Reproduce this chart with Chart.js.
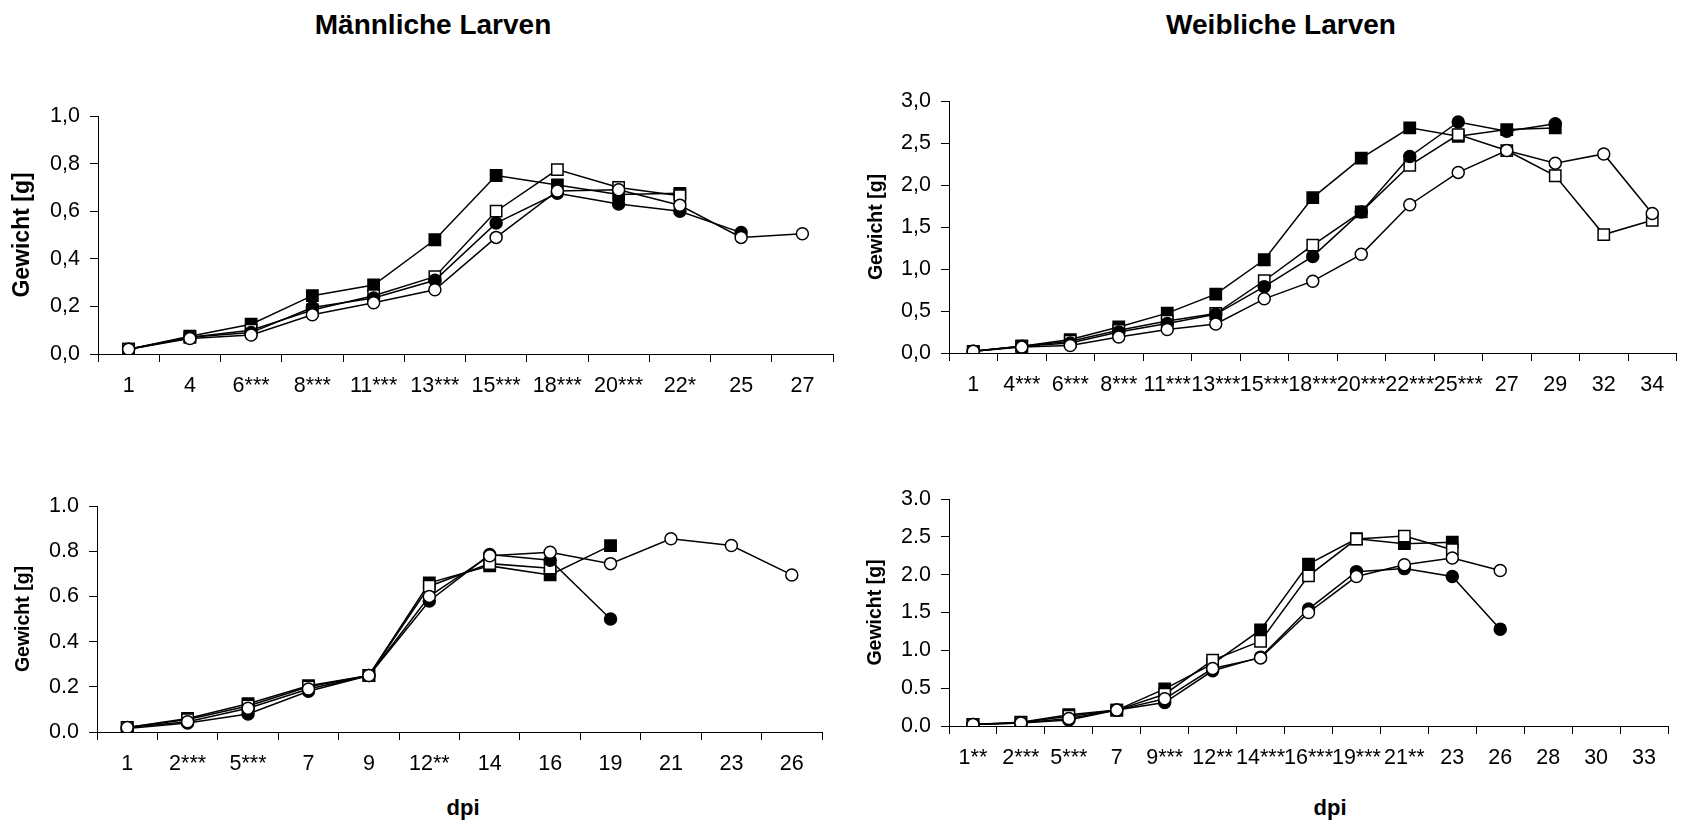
<!DOCTYPE html>
<html>
<head>
<meta charset="utf-8">
<script src="https://cdn.jsdelivr.net/npm/chart.js@4.4.1/dist/chart.umd.min.js"></script>
<style>
  html, body { margin: 0; padding: 0; background: #fff; overflow: hidden; }
  body { width: 1686px; height: 824px; position: relative; font-family: "Liberation Sans", Arial, sans-serif; }
  canvas { position: absolute; }
  .lbl { position: absolute; font-weight: bold; color: #000; transform: translate(-50%, -50%); white-space: nowrap; }
</style>
</head>
<body>
<div class="lbl" style="left:433px; top:25px; font-size:28px;">Männliche Larven</div>
<div class="lbl" style="left:1281px; top:25px; font-size:28px;">Weibliche Larven</div>
<div class="lbl" style="left:463px; top:808px; font-size:22px;">dpi</div>
<div class="lbl" style="left:1330px; top:808px; font-size:22px;">dpi</div>

<canvas id="c1" width="843" height="360" style="left:0px; top:60px;"></canvas>
<canvas id="c2" width="836" height="360" style="left:850px; top:60px;"></canvas>
<canvas id="c3" width="843" height="340" style="left:0px; top:450px;"></canvas>
<canvas id="c4" width="836" height="340" style="left:850px; top:450px;"></canvas>

<script>
// Männliche Larven, oben
const tagMO = ['1', '4', '6***', '8***', '11***', '13***', '15***', '18***', '20***', '22*', '25', '27'];
const mO_quadVoll  = [0.02, 0.075, 0.125, 0.245, 0.29, 0.48, 0.75, 0.71, 0.67, 0.675, null, null];
const mO_quadLeer  = [0.02, 0.07, 0.10, 0.185, 0.245, 0.325, 0.60, 0.775, 0.70, 0.665, null, null];
const mO_kreisVoll = [0.02, 0.07, 0.09, 0.195, 0.235, 0.31, 0.55, 0.675, 0.63, 0.60, 0.51, null];
const mO_kreisLeer = [0.02, 0.065, 0.08, 0.165, 0.215, 0.27, 0.49, 0.685, 0.69, 0.625, 0.49, 0.505];

// Weibliche Larven, oben
const tagWO = ['1', '4***', '6***', '8***', '11***', '13***', '15***', '18***', '20***', '22***', '25***', '27', '29', '32', '34'];
const wO_quadVoll  = [0.02, 0.08, 0.16, 0.31, 0.475, 0.70, 1.11, 1.85, 2.32, 2.68, 2.58, 2.66, 2.68, null, null];
const wO_quadLeer  = [0.02, 0.08, 0.14, 0.27, 0.38, 0.47, 0.86, 1.285, 1.68, 2.235, 2.60, 2.41, 2.11, 1.41, 1.58];
const wO_kreisVoll = [0.02, 0.08, 0.12, 0.25, 0.35, 0.46, 0.79, 1.15, 1.68, 2.34, 2.75, 2.64, 2.73, null, null];
const wO_kreisLeer = [0.02, 0.07, 0.09, 0.19, 0.28, 0.345, 0.645, 0.855, 1.175, 1.765, 2.15, 2.41, 2.26, 2.37, 1.66];

// Männliche Larven, unten
const tagMU = ['1', '2***', '5***', '7', '9', '12**', '14', '16', '19', '21', '23', '26'];
const mU_quadVoll  = [0.02, 0.06, 0.125, 0.205, 0.25, 0.66, 0.735, 0.695, 0.825, null, null, null];
const mU_quadLeer  = [0.02, 0.055, 0.115, 0.20, 0.25, 0.645, 0.745, 0.725, null, null, null, null];
const mU_kreisVoll = [0.015, 0.04, 0.08, 0.18, 0.25, 0.58, 0.785, 0.76, 0.50, null, null, null];
const mU_kreisLeer = [0.02, 0.045, 0.105, 0.19, 0.25, 0.60, 0.78, 0.795, 0.745, 0.855, 0.825, 0.695];

// Weibliche Larven, unten
const tagWU = ['1**', '2***', '5***', '7', '9***', '12**', '14***', '16***', '19***', '21**', '23', '26', '28', '30', '33'];
const wU_quadVoll  = [0.02, 0.05, 0.15, 0.21, 0.49, 0.82, 1.27, 2.14, 2.475, 2.41, 2.43, null, null, null, null];
const wU_quadLeer  = [0.02, 0.045, 0.13, 0.21, 0.42, 0.87, 1.12, 1.985, 2.47, 2.51, 2.33, null, null, null, null];
const wU_kreisVoll = [0.02, 0.04, 0.08, 0.21, 0.31, 0.73, 0.91, 1.545, 2.04, 2.08, 1.975, 1.28, null, null, null];
const wU_kreisLeer = [0.02, 0.04, 0.10, 0.21, 0.36, 0.76, 0.90, 1.50, 1.975, 2.13, 2.22, 2.055, null, null, null];

Chart.defaults.font.family = '"Liberation Sans", Arial, sans-serif';
Chart.defaults.color = '#000';

function serie(daten, form, gefuellt) {
  return {
    data: daten,
    borderColor: '#000',
    borderWidth: 1.5,
    pointStyle: form,
    pointRadius: form === 'rect' ? 8 : 6,
    pointBorderWidth: 1.5,
    pointBorderColor: '#000',
    pointBackgroundColor: gefuellt ? '#000' : '#fff',
    fill: false,
    tension: 0,
    spanGaps: false
  };
}

function zeichne(id, cfg) {
  new Chart(document.getElementById(id), {
    type: 'line',
    data: {
      labels: cfg.tage,
      datasets: [
        serie(cfg.kreisLeer, 'circle', false),
        serie(cfg.kreisVoll, 'circle', true),
        serie(cfg.quadLeer, 'rect', false),
        serie(cfg.quadVoll, 'rect', true)
      ]
    },
    options: {
      responsive: false,
      animation: false,
      layout: { padding: cfg.pad },
      plugins: { legend: { display: false }, tooltip: { enabled: false } },
      scales: {
        x: {
          offset: true,
          border: { color: '#000', width: 1 },
          grid: { offset: true, drawOnChartArea: false, tickLength: 8, color: '#000' },
          ticks: { autoSkip: false, maxRotation: 0, minRotation: 0, padding: 11, font: { size: 21.5 } },
          afterFit: s => { s.height = cfg.xHoehe; }
        },
        y: {
          min: 0,
          max: cfg.max,
          border: { color: '#000', width: 1 },
          grid: { drawOnChartArea: false, tickLength: 8, color: '#000' },
          ticks: {
            stepSize: cfg.schritt,
            padding: 10,
            font: { size: 21.5 },
            callback: v => {
              const t = Number(v).toFixed(1);
              return cfg.komma ? t.replace('.', ',') : t;
            }
          },
          title: {
            display: true,
            text: 'Gewicht [g]',
            font: { size: cfg.titelGr, weight: 'bold' },
            padding: { top: cfg.titelAbst, bottom: 0 }
          },
          afterFit: s => { s.width = cfg.yBreite; }
        }
      }
    }
  });
}

zeichne('c1', {
  tage: tagMO, quadVoll: mO_quadVoll, quadLeer: mO_quadLeer, kreisVoll: mO_kreisVoll, kreisLeer: mO_kreisLeer,
  max: 1, schritt: 0.2, komma: true, pad: { top: 56, right: 10, bottom: 0, left: 0 },
  xHoehe: 66, yBreite: 98, titelGr: 23, titelAbst: 9
});
zeichne('c2', {
  tage: tagWO, quadVoll: wO_quadVoll, quadLeer: wO_quadLeer, kreisVoll: wO_kreisVoll, kreisLeer: wO_kreisLeer,
  max: 3, schritt: 0.5, komma: true, pad: { top: 41, right: 0, bottom: 0, left: 0 },
  xHoehe: 67, yBreite: 99, titelGr: 19.5, titelAbst: 15
});
zeichne('c3', {
  tage: tagMU, quadVoll: mU_quadVoll, quadLeer: mU_quadLeer, kreisVoll: mU_kreisVoll, kreisLeer: mU_kreisLeer,
  max: 1, schritt: 0.2, komma: false, pad: { top: 56, right: 21, bottom: 0, left: 0 },
  xHoehe: 58, yBreite: 97, titelGr: 19.5, titelAbst: 12
});
zeichne('c4', {
  tage: tagWU, quadVoll: wU_quadVoll, quadLeer: wU_quadLeer, kreisVoll: wU_kreisVoll, kreisLeer: wU_kreisLeer,
  max: 3, schritt: 0.5, komma: false, pad: { top: 49, right: 18, bottom: 0, left: 0 },
  xHoehe: 64, yBreite: 99, titelGr: 19.5, titelAbst: 14
});
</script>
</body>
</html>
